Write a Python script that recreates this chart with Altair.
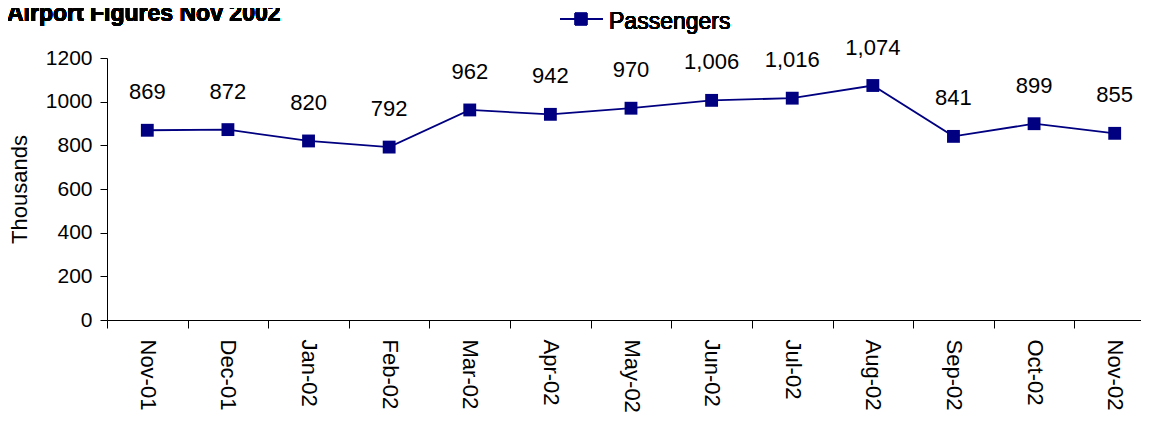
import altair as alt
import pandas as pd

months = ["Nov-01", "Dec-01", "Jan-02", "Feb-02", "Mar-02", "Apr-02", "May-02",
          "Jun-02", "Jul-02", "Aug-02", "Sep-02", "Oct-02", "Nov-02"]
passengers = [869, 872, 820, 792, 962, 942, 970, 1006, 1016, 1074, 841, 899, 855]
y_ticks = [0, 200, 400, 600, 800, 1000, 1200]

df = pd.DataFrame({"month": months, "passengers": passengers})

FONT = "Liberation Sans"
NAVY = "#000080"

x_enc = alt.X("month:N", sort=months,
              scale=alt.Scale(paddingInner=0, paddingOuter=0, range=[0, 1048]),
              axis=alt.Axis(title=None, labelAngle=90, labelAlign="left", labelBaseline="middle",
                            labelFontSize=22, labelFont=FONT, labelColor="black",
                            labelPadding=11, tickSize=8, tickColor="black", domainColor="black",
                            tickBand="extent", labelOverlap=False, grid=False))
y_enc = alt.Y("passengers:Q",
              scale=alt.Scale(domain=[0, 1200], nice=False),
              axis=alt.Axis(title="Thousands", titleFontSize=22, titleFont=FONT,
                            titleFontWeight="normal", titleColor="black", titlePadding=14,
                            values=y_ticks, format="d", labelFontSize=21, labelFont=FONT,
                            labelColor="black", tickSize=7, tickColor="black",
                            domainColor="black", grid=False, labelPadding=8))

base = alt.Chart(df).encode(x=x_enc, y=y_enc)

line = base.mark_line(color=NAVY, strokeWidth=1.8)
points = base.mark_point(shape="square", filled=True, color=NAVY, size=165, opacity=1)
labels = base.mark_text(dy=-38, fontSize=22, font=FONT, color="black").encode(
    text=alt.Text("passengers:Q", format=","))

legend_line = alt.Chart(df).mark_rule(color=NAVY, strokeWidth=1.8).encode(
    x=alt.value(453), x2=alt.value(496), y=alt.value(-39))
legend_pt = alt.Chart(df).mark_point(shape="square", filled=True, color=NAVY, size=150, opacity=1).encode(
    x=alt.value(474), y=alt.value(-39))
legend_txt = alt.Chart(df).mark_text(align="left", baseline="alphabetic", fontSize=23, font=FONT,
                                     color="black").encode(
    x=alt.value(502), y=alt.value(-29), text=alt.value("Passengers"))

title_txt = alt.Chart(df).mark_text(align="left", baseline="alphabetic", fontSize=23, font=FONT,
                                    fontWeight="bold", color="black").encode(
    x=alt.value(-100), y=alt.value(-37), text=alt.value("Airport Figures Nov 2002"))

chart = alt.layer(line, points, labels, legend_line, legend_pt, legend_txt, title_txt).properties(
    width=1034, height=262,
    padding={"left": 99, "top": 50, "right": 0, "bottom": 95},
    autosize=alt.AutoSizeParams(type="none"),
).configure_view(stroke=None)

chart.save("out.html", embed_options={"renderer": "svg", "actions": False})
